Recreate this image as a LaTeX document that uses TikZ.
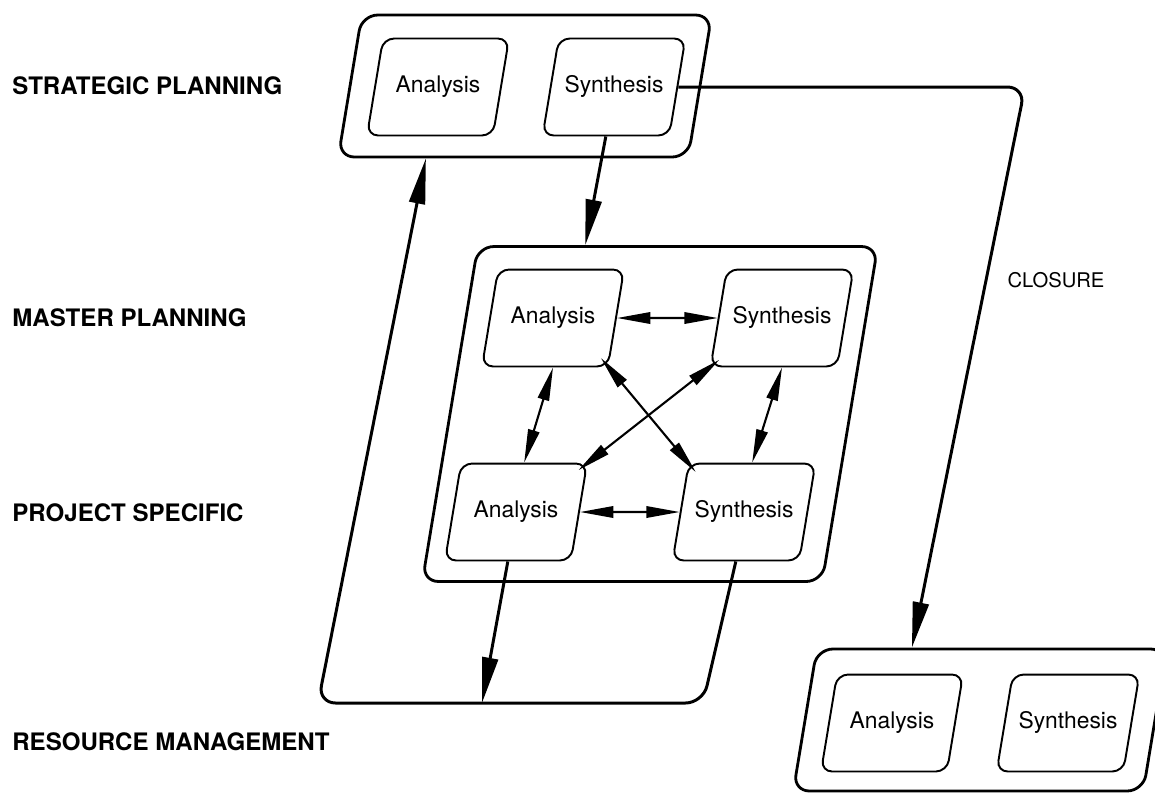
\documentclass[tikz,border=0pt]{standalone}
\usepackage{fontspec}
\setmainfont{TeX Gyre Heros}
\usetikzlibrary{arrows.meta,calc,shapes.geometric}

\tikzset{
  lvl/.style={anchor=west, inner sep=0pt, font=\fontsize{13.7}{16}\selectfont\bfseries},
  slantbox/.style={trapezium, trapezium left angle=80.6, trapezium right angle=99.4,
    trapezium stretches body=true, draw},
  inbox/.style={slantbox, line width=1.1pt, rounded corners=0.22cm,
    text height=9.5pt, text depth=3pt, inner ysep=0.75cm,
    minimum width=2.84cm, font=\fontsize{13}{15}\selectfont},
  outbox/.style={slantbox, line width=1.6pt, rounded corners=0.32cm,
    text height=0pt, text depth=0pt},
  flow/.style={line width=1.7pt, -{Triangle[length=26pt,width=9pt]}},
  link/.style={line width=1.2pt, {Triangle[length=19pt,width=6.5pt]}-{Triangle[length=19pt,width=6.5pt]}},
}

\begin{document}
\begin{tikzpicture}[x=0.02cm, y=-0.02cm]
		\useasboundingbox (0,0) rectangle (1155,792);
		
		% level names
		\node[lvl] (strat) at (12,86) {STRATEGIC PLANNING};
		\node[lvl] (master) at (12,318) {MASTER PLANNING};
		\node[lvl] (proj) at (12,513) {PROJECT SPECIFIC};
		\node[lvl] (res) at (12,742) {RESOURCE MANAGEMENT};
		
		% outer frames
		\node[outbox, minimum width=7.47cm, inner ysep=1.42cm] (sp) at (525,86) {};
		\node[outbox, minimum width=9.11cm, inner ysep=3.35cm] (mp) at (650,414) {};
		\node[outbox, minimum width=7.47cm, inner ysep=1.42cm] (rm) at (980,720) {};
		
		% inner boxes
		\node[inbox] (spA) at (438,87) {Analysis};
		\node[inbox] (spS) at (614,87) {Synthesis};
		\node[inbox] (mpA) at (553,318) {Analysis};
		\node[inbox] (mpS) at (782,318) {Synthesis};
		\node[inbox] (psA) at (516,512) {Analysis};
		\node[inbox] (psS) at (744,512) {Synthesis};
		\node[inbox] (rmA) at (892,723) {Analysis};
		\node[inbox] (rmS) at (1068,723) {Synthesis};
		
		% links inside master planning
		\draw[link] (mpA.east) -- (mpS.west);
		\draw[link] (psA.east) -- (psS.west);
		\draw[link] (mpA.south) -- (psA.top side);
		\draw[link] (mpS.south) -- (psS.top side);
		\draw[link, shorten <=-7pt, shorten >=-7pt] (mpA.bottom right corner) -- (psS.top left corner);
		\draw[link, shorten <=-7pt, shorten >=-7pt] (mpS.bottom left corner) -- (psA.top right corner);
		
		\coordinate (spIn) at ($(sp.bottom left corner)!0.253!(sp.bottom right corner)$);
		\coordinate (mpIn) at ($(mp.top left corner)!0.27!(mp.top right corner)$);
		\coordinate (rmIn) at ($(rm.top left corner)!0.273!(rm.top right corner)$);
		\coordinate (loopL) at (318,703);
		\coordinate (loopR) at (703,703);
		\coordinate (loopIn) at ($(loopL)!0.426!(loopR)$);
		\coordinate (bend) at (1025,87);
		
		% flows between levels
		\draw[flow] (spS.bottom side) -- (mpIn);
		\draw[flow, rounded corners=0.35cm] (psS.bottom side) -- (loopR) -- (loopL) -- (spIn);
		\draw[flow] (psA.bottom side) -- (loopIn);
		\draw[flow, rounded corners=0.35cm] (spS.east) -- (bend) -- (rmIn);
		
		\node[font=\fontsize{11.5}{14}\selectfont] (closure) at (1056,280) {CLOSURE};
		
	\end{tikzpicture}
\end{document}
